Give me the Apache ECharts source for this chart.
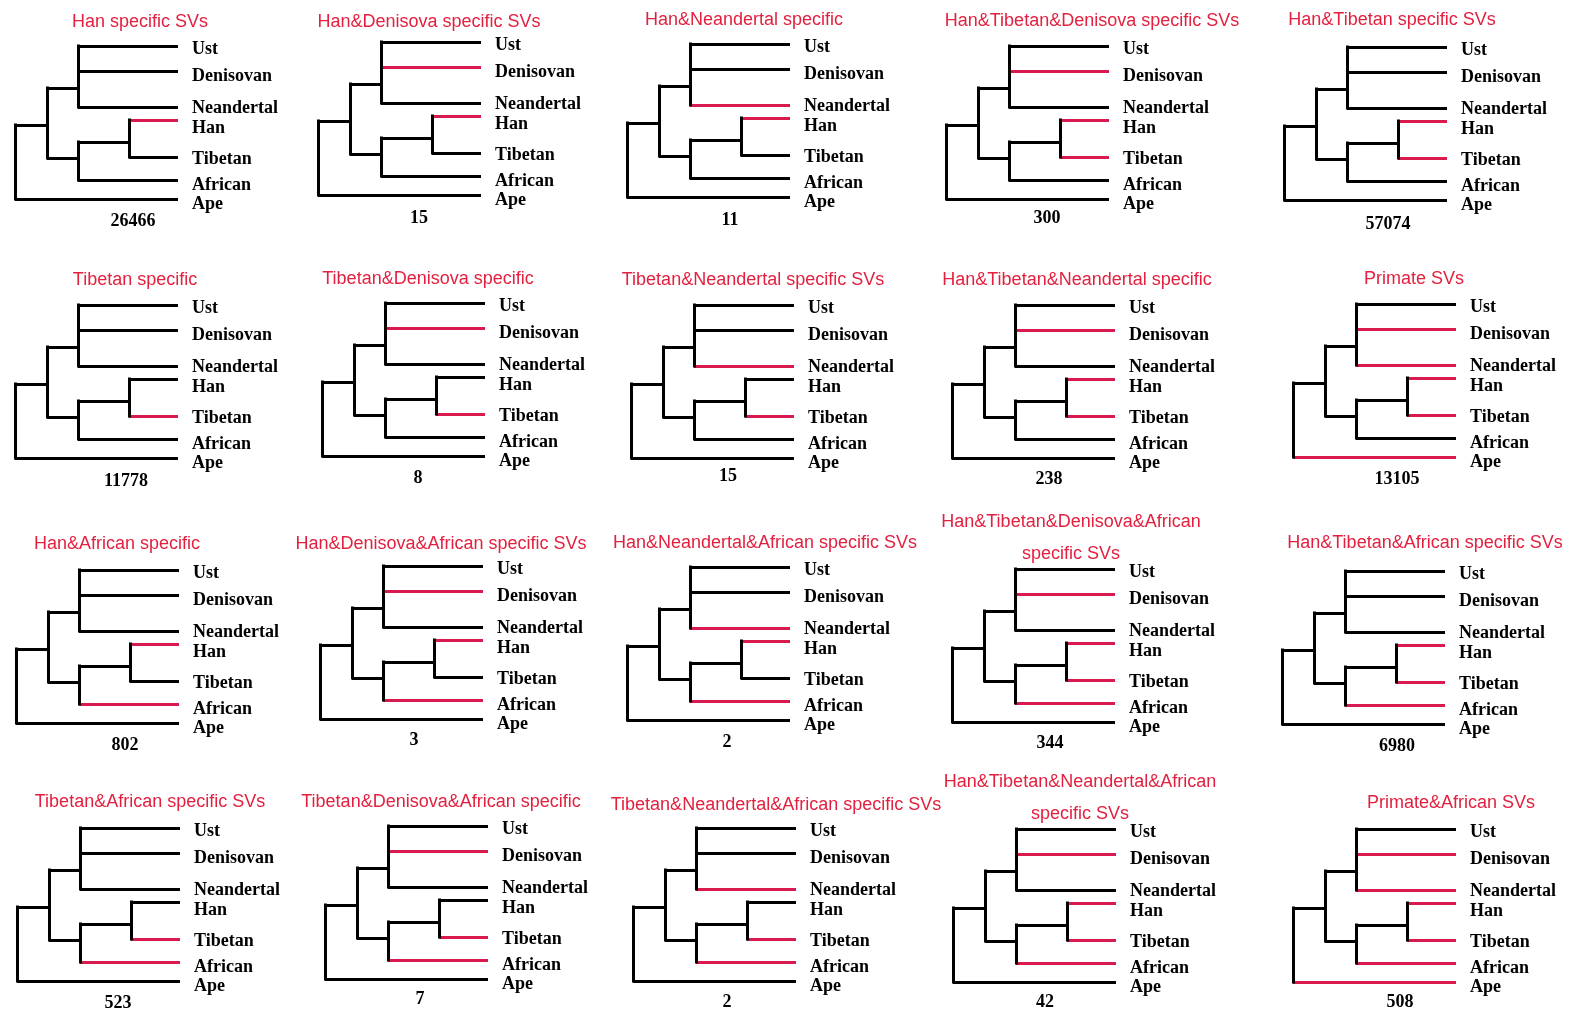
<!DOCTYPE html>
<html>
<head>
<meta charset="utf-8">
<title>Lineage-specific SVs</title>
<script src="https://cdn.jsdelivr.net/npm/echarts@6/dist/echarts.min.js"></script>
<style>
  html, body { margin: 0; padding: 0; background: #fff; }
  #chart { width: 1571px; height: 1011px; }
</style>
</head>
<body>
<div id="chart"></div>
<script>
// ---- tree topology (branch depth and tip rows in tree units) ----
const taxa = ['Ust', 'Denisovan', 'Neandertal', 'Han', 'Tibetan', 'African', 'Ape'];
const tipRow = [0, 25, 61, 74, 111, 134, 153];
const tipParent = [2, 2, 2, 4, 4, 3, 0];
const tipDepth = 163;
// clades: root, crown, archaic, modern, east-Asian
const cladeDepth = [0, 32, 63, 63, 114];
const cladeRow = [null, 79, 42, 112, 96];
const cladeParent = [-1, 0, 1, 1, 3];

// ---- panels ----
const panelTitles = [
  'Han specific SVs', 'Han&Denisova specific SVs', 'Han&Neandertal specific',
  'Han&Tibetan&Denisova specific SVs', 'Han&Tibetan specific SVs',
  'Tibetan specific', 'Tibetan&Denisova specific', 'Tibetan&Neandertal specific SVs',
  'Han&Tibetan&Neandertal specific', 'Primate SVs',
  'Han&African specific', 'Han&Denisova&African specific SVs', 'Han&Neandertal&African specific SVs',
  'Han&Tibetan&Denisova&African\nspecific SVs', 'Han&Tibetan&African specific SVs',
  'Tibetan&African specific SVs', 'Tibetan&Denisova&African specific', 'Tibetan&Neandertal&African specific SVs',
  'Han&Tibetan&Neandertal&African\nspecific SVs', 'Primate&African SVs'
];
const svCounts = [26466, 15, 11, 300, 57074, 11778, 8, 15, 238, 13105,
                  802, 3, 2, 344, 6980, 523, 7, 2, 42, 508];
const redTips = [
  ['Han'], ['Denisovan', 'Han'], ['Neandertal', 'Han'], ['Denisovan', 'Han', 'Tibetan'], ['Han', 'Tibetan'],
  ['Tibetan'], ['Denisovan', 'Tibetan'], ['Neandertal', 'Tibetan'], ['Denisovan', 'Han', 'Tibetan'],
  ['Denisovan', 'Neandertal', 'Han', 'Tibetan', 'Ape'],
  ['Han', 'African'], ['Denisovan', 'Han', 'African'], ['Neandertal', 'Han', 'African'],
  ['Denisovan', 'Han', 'Tibetan', 'African'], ['Han', 'Tibetan', 'African'],
  ['Tibetan', 'African'], ['Denisovan', 'Tibetan', 'African'], ['Neandertal', 'Tibetan', 'African'],
  ['Denisovan', 'Han', 'Tibetan', 'African'],
  ['Denisovan', 'Neandertal', 'Han', 'Tibetan', 'African', 'Ape']
];

// ---- layout: [treeLeft, treeTop, titleX, titleY, countX, countY] ----
const panelLayout = [
  [15, 46, 140, 20, 133, 219], [318, 42, 429, 20, 419, 216], [627, 44, 744, 18, 730, 218],
  [946, 46, 1092, 19, 1047, 216], [1284, 47, 1392, 18, 1388, 222],
  [15, 305, 135, 278, 126, 479], [322, 303, 428, 277, 418, 476], [631, 305, 753, 278, 728, 474],
  [952, 305, 1077, 278, 1049, 477], [1293, 304, 1414, 277, 1397, 477],
  [16, 570, 117, 542, 125, 743], [320, 566, 441, 542, 414, 738], [627, 567, 765, 541, 727, 740],
  [952, 569, 1071, 536, 1050, 741], [1282, 571, 1425, 541, 1397, 744],
  [17, 828, 150, 800, 118, 1001], [325, 826, 441, 800, 420, 997], [633, 828, 776, 803, 727, 1000],
  [953, 829, 1080, 796, 1045, 1000], [1293, 829, 1451, 801, 1400, 1000]
];
const treeW = 163, treeH = 153;
const labelNudge = [3, 5, 1, 8, 2, 5, 5];
const textDrop = 2;

const BLACK = '#000000';
const RED = '#d81a4e';
const TITLE_RED = '#e3203f';

// ---- segment builders ----
function horizontalSegments(highlight) {
  const segs = [];
  for (let c = 1; c < cladeDepth.length; c++) {
    const p = cladeParent[c];
    segs.push({ coords: [[cladeDepth[p], cladeRow[c]], [cladeDepth[c], cladeRow[c]]],
                lineStyle: { color: BLACK } });
  }
  taxa.forEach((name, t) => {
    const p = tipParent[t];
    segs.push({ coords: [[cladeDepth[p], tipRow[t]], [tipDepth, tipRow[t]]],
                lineStyle: { color: highlight.includes(name) ? RED : BLACK } });
  });
  return segs;
}
function verticalSegments() {
  const segs = [];
  for (let c = 0; c < cladeDepth.length; c++) {
    const rows = [];
    for (let k = 1; k < cladeDepth.length; k++) if (cladeParent[k] === c) rows.push(cladeRow[k]);
    tipParent.forEach((p, t) => { if (p === c) rows.push(tipRow[t]); });
    segs.push({ coords: [[cladeDepth[c], Math.min(...rows)], [cladeDepth[c], Math.max(...rows)]],
                lineStyle: { color: BLACK } });
  }
  return segs;
}

const grids = [], xAxes = [], yAxes = [], series = [], graphics = [];
panelTitles.forEach((title, i) => {
  const [left, top, tx, ty, cx, cy] = panelLayout[i];
  grids.push({ left: left, top: top, width: treeW, height: treeH });
  xAxes.push({ gridIndex: i, type: 'value', min: 0, max: tipDepth, show: false });
  yAxes.push({ gridIndex: i, type: 'value', min: 0, max: Math.max(...tipRow), inverse: true, show: false });

  series.push({
    type: 'lines', coordinateSystem: 'cartesian2d', xAxisIndex: i, yAxisIndex: i,
    clip: false, silent: true,
    lineStyle: { width: 3, opacity: 1, cap: 'butt' },
    data: horizontalSegments(redTips[i])
  });
  series.push({
    type: 'lines', coordinateSystem: 'cartesian2d', xAxisIndex: i, yAxisIndex: i,
    clip: false, silent: true,
    lineStyle: { width: 3, opacity: 1, cap: 'square' },
    data: verticalSegments()
  });
  // tip names sit just right of each branch end
  series.push({
    type: 'scatter', xAxisIndex: i, yAxisIndex: i, clip: false, silent: true,
    symbolSize: 0, itemStyle: { color: BLACK, opacity: 1 },
    data: taxa.map((name, t) => ({
      value: [tipDepth, tipRow[t]], name: name,
      label: { offset: [0, labelNudge[t]] }
    })),
    label: {
      show: true, position: 'right', distance: 14, opacity: 1,
      formatter: p => p.name,
      fontFamily: '"Liberation Serif", "Times New Roman", serif',
      fontWeight: 'bold', fontSize: 18, color: BLACK
    }
  });

  graphics.push({
    type: 'text', x: tx, y: ty + textDrop, silent: true,
    style: {
      text: title, fill: TITLE_RED, align: 'center', verticalAlign: 'middle',
      font: '18px "Liberation Sans", Arial, sans-serif', lineHeight: 32
    }
  });
  graphics.push({
    type: 'text', x: cx, y: cy + textDrop, silent: true,
    style: {
      text: String(svCounts[i]), fill: BLACK, align: 'center', verticalAlign: 'middle',
      font: 'bold 18px "Liberation Serif", "Times New Roman", serif'
    }
  });
});

const chart = echarts.init(document.getElementById('chart'));
chart.setOption({
  backgroundColor: '#ffffff',
  animation: false,
  grid: grids,
  xAxis: xAxes,
  yAxis: yAxes,
  series: series,
  graphic: graphics
});
</script>
</body>
</html>
